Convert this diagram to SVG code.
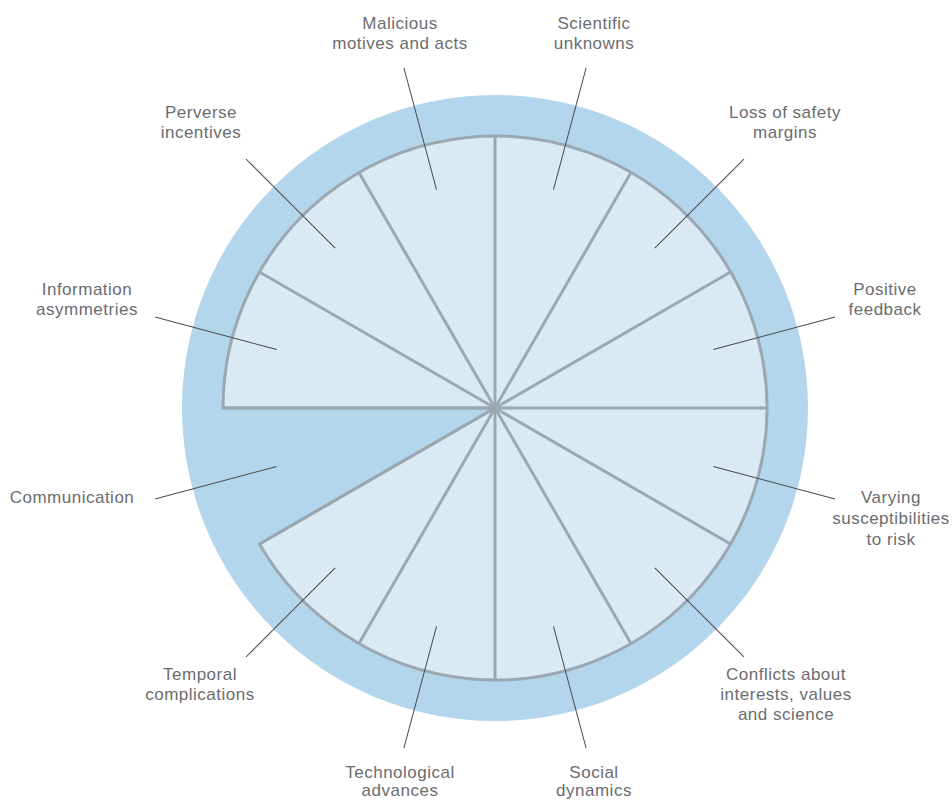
<svg xmlns="http://www.w3.org/2000/svg" width="952" height="801" viewBox="0 0 952 801">
<style>
.ring{fill:#b4d6ec}
.wedge{fill:#d9eaf4;stroke:#9aa8b3;stroke-width:3;stroke-linejoin:round}
.spoke{stroke:#9aa8b3;stroke-width:3}
.lead{stroke:#4a4a4a;stroke-width:1;fill:none}
text{font-family:"Liberation Sans",Arial,sans-serif;font-size:17px;letter-spacing:0.5px;fill:#6b6c6f;text-anchor:middle}
</style>
<rect width="952" height="801" fill="#ffffff"/>
<g id="wheel">
<circle class="ring" cx="495" cy="408" r="313"/>
<path class="wedge" d="M495,408 L259.44,544 A272,272 0 1 0 223,408 Z"/>
<g id="spokes">
<line class="spoke" x1="495" y1="408" x2="767" y2="408" transform="rotate(0 495 408)"/>
<line class="spoke" x1="495" y1="408" x2="767" y2="408" transform="rotate(30 495 408)"/>
<line class="spoke" x1="495" y1="408" x2="767" y2="408" transform="rotate(60 495 408)"/>
<line class="spoke" x1="495" y1="408" x2="767" y2="408" transform="rotate(90 495 408)"/>
<line class="spoke" x1="495" y1="408" x2="767" y2="408" transform="rotate(120 495 408)"/>
<line class="spoke" x1="495" y1="408" x2="767" y2="408" transform="rotate(150 495 408)"/>
<line class="spoke" x1="495" y1="408" x2="767" y2="408" transform="rotate(180 495 408)"/>
<line class="spoke" x1="495" y1="408" x2="767" y2="408" transform="rotate(210 495 408)"/>
<line class="spoke" x1="495" y1="408" x2="767" y2="408" transform="rotate(240 495 408)"/>
<line class="spoke" x1="495" y1="408" x2="767" y2="408" transform="rotate(270 495 408)"/>
<line class="spoke" x1="495" y1="408" x2="767" y2="408" transform="rotate(300 495 408)"/>
<line class="spoke" x1="495" y1="408" x2="767" y2="408" transform="rotate(330 495 408)"/>
</g>
</g>
<g id="connectors">
<line class="lead" x1="721" y1="408" x2="847" y2="408" transform="rotate(-15 495 408)"/>
<line class="lead" x1="721" y1="408" x2="847" y2="408" transform="rotate(-45 495 408)"/>
<line class="lead" x1="721" y1="408" x2="847" y2="408" transform="rotate(-75 495 408)"/>
<line class="lead" x1="721" y1="408" x2="847" y2="408" transform="rotate(-105 495 408)"/>
<line class="lead" x1="721" y1="408" x2="847" y2="408" transform="rotate(-135 495 408)"/>
<line class="lead" x1="721" y1="408" x2="847" y2="408" transform="rotate(-165 495 408)"/>
<line class="lead" x1="721" y1="408" x2="847" y2="408" transform="rotate(-195 495 408)"/>
<line class="lead" x1="721" y1="408" x2="847" y2="408" transform="rotate(-225 495 408)"/>
<line class="lead" x1="721" y1="408" x2="847" y2="408" transform="rotate(-255 495 408)"/>
<line class="lead" x1="721" y1="408" x2="847" y2="408" transform="rotate(-285 495 408)"/>
<line class="lead" x1="721" y1="408" x2="847" y2="408" transform="rotate(-315 495 408)"/>
<line class="lead" x1="721" y1="408" x2="847" y2="408" transform="rotate(-345 495 408)"/>
</g>
<g id="malicious"><text x="400" y="29">Malicious</text><text x="400" y="49">motives and acts</text></g>
<g id="scientific"><text x="594" y="29">Scientific</text><text x="594" y="49">unknowns</text></g>
<g id="perverse"><text x="201" y="118">Perverse</text><text x="201" y="138">incentives</text></g>
<g id="safety"><text x="785" y="118">Loss of safety</text><text x="785" y="138">margins</text></g>
<g id="information"><text x="87" y="295">Information</text><text x="87" y="315">asymmetries</text></g>
<g id="positive"><text x="885" y="295">Positive</text><text x="885" y="315">feedback</text></g>
<g id="communication"><text x="72" y="503">Communication</text></g>
<g id="varying"><text x="891" y="503">Varying</text><text x="891" y="524">susceptibilities</text><text x="891" y="545">to risk</text></g>
<g id="temporal"><text x="200" y="680">Temporal</text><text x="200" y="700">complications</text></g>
<g id="conflicts"><text x="786" y="680">Conflicts about</text><text x="786" y="700">interests, values</text><text x="786" y="720">and science</text></g>
<g id="technological"><text x="400" y="778">Technological</text><text x="400" y="796">advances</text></g>
<g id="social"><text x="594" y="778">Social</text><text x="594" y="796">dynamics</text></g>
</svg>
